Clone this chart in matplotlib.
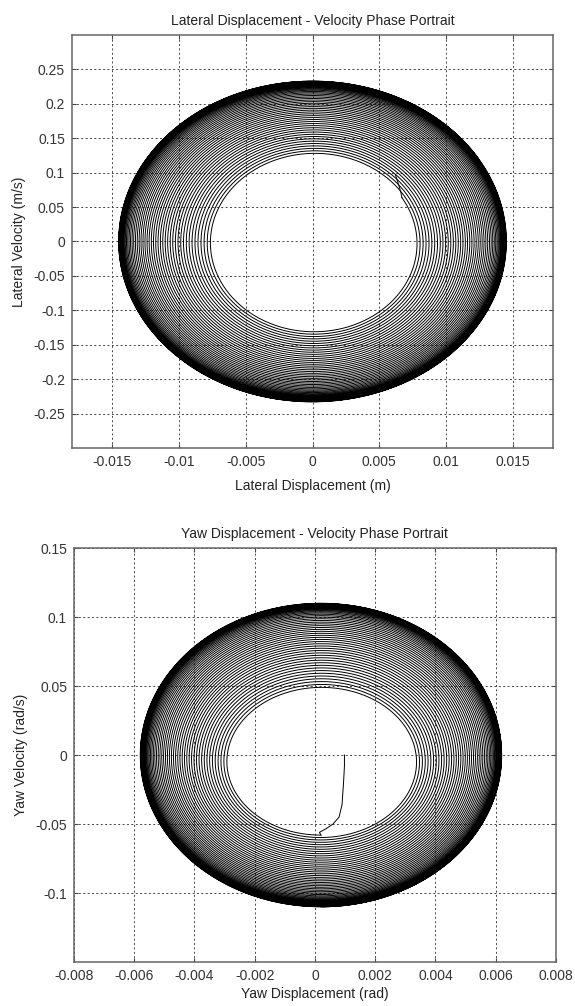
import numpy as np
import matplotlib
matplotlib.use("Agg")
import matplotlib.pyplot as plt
from matplotlib import font_manager

# ---------------- data ----------------
# ring positions between the inner hole (0) and the outer limit cycle (1)
ring_fraction = [0.0, 0.034, 0.068, 0.101, 0.134, 0.166, 0.198, 0.229, 0.260,
                 0.290, 0.320, 0.349, 0.378, 0.406, 0.434, 0.461, 0.488, 0.514,
                 0.540, 0.565, 0.590, 0.614, 0.638, 0.661, 0.684, 0.706, 0.728,
                 0.749, 0.770, 0.790, 0.810, 0.829, 0.847, 0.864, 0.880, 0.895,
                 0.909, 0.922, 0.934, 0.945, 0.955, 0.964, 0.972, 0.979, 0.985,
                 0.990, 0.994, 0.997, 1.0]

# lateral portrait: inner/outer extents of the spiral
lat_x_inner = [-0.0075, 0.0078]   # left, right
lat_v_inner = [-0.130, 0.125]     # bottom, top
lat_x_outer = [-0.0145, 0.0145]
lat_v_outer = [-0.233, 0.233]
lat_start_x = [0.0062, 0.0064, 0.0066]
lat_start_v = [0.097, 0.085, 0.072]

# yaw portrait: inner/outer extents of the spiral
yaw_x_inner = [-0.0029, 0.0033]
yaw_v_inner = [-0.058, 0.048]
yaw_x_outer = [-0.0058, 0.0062]
yaw_v_outer = [-0.110, 0.110]
yaw_start_x = [0.00098, 0.00098, 0.00095, 0.00090, 0.00080, 0.00060, 0.00036, 0.00015]
yaw_start_v = [0.0, -0.008, -0.020, -0.036, -0.045, -0.050, -0.0535, -0.0560]

lat_xticks = [-0.015, -0.01, -0.005, 0, 0.005, 0.01, 0.015]
lat_xticklabels = ["-0.015", "-0.01", "-0.005", "0", "0.005", "0.01", "0.015"]
lat_yticks = [-0.25, -0.2, -0.15, -0.1, -0.05, 0, 0.05, 0.1, 0.15, 0.2, 0.25]
lat_yticklabels = ["-0.25", "-0.2", "-0.15", "-0.1", "-0.05", "0", "0.05", "0.1", "0.15", "0.2", "0.25"]
yaw_xticks = [-0.008, -0.006, -0.004, -0.002, 0, 0.002, 0.004, 0.006, 0.008]
yaw_xticklabels = ["-0.008", "-0.006", "-0.004", "-0.002", "0", "0.002", "0.004", "0.006", "0.008"]
yaw_yticks = [-0.1, -0.05, 0, 0.05, 0.1, 0.15]
yaw_yticklabels = ["-0.1", "-0.05", "0", "0.05", "0.1", "0.15"]

# ---------------- styling ----------------
names = {f.name for f in font_manager.fontManager.ttflist}
fam = ["Liberation Sans Narrow", "Liberation Sans", "DejaVu Sans"]
fam = [f for f in fam if f in names] or ["DejaVu Sans"]
plt.rcParams["font.family"] = fam
FS = 10


def spiral(x_in, v_in, x_out, v_out, theta0):
    """Clockwise phase-plane spiral through the listed rings."""
    fr = np.asarray(ring_fraction)
    xs, vs = [], []
    n = 240
    for k in range(len(fr) - 1):
        th = theta0 - np.linspace(0, 2 * np.pi, n, endpoint=False)
        f = fr[k] + (fr[k + 1] - fr[k]) * np.linspace(0, 1, n, endpoint=False)
        c, s = np.cos(th), np.sin(th)
        xl = x_in[0] + f * (x_out[0] - x_in[0])
        xr = x_in[1] + f * (x_out[1] - x_in[1])
        vb = v_in[0] + f * (v_out[0] - v_in[0])
        vt = v_in[1] + f * (v_out[1] - v_in[1])
        xc, xa = (xl + xr) / 2, (xr - xl) / 2
        vc, va = (vb + vt) / 2, (vt - vb) / 2
        xs.append(xc + xa * c)
        vs.append(vc + va * s)
    th = theta0 - np.linspace(0, 2 * np.pi, n)
    xs.append((x_out[0] + x_out[1]) / 2 + (x_out[1] - x_out[0]) / 2 * np.cos(th))
    vs.append((v_out[0] + v_out[1]) / 2 + (v_out[1] - v_out[0]) / 2 * np.sin(th))
    return np.concatenate(xs), np.concatenate(vs)


def style(ax, xlim, ylim, xt, xtl, yt, ytl):
    ax.set_xlim(*xlim)
    ax.set_ylim(*ylim)
    ax.set_xticks(xt)
    ax.set_xticklabels(xtl, fontsize=FS, color="#333333")
    ax.set_yticks(yt)
    ax.set_yticklabels(ytl, fontsize=FS, color="#333333")
    ax.tick_params(direction="in", length=3, width=0.8, top=True, right=True,
                   color="#444444", pad=5)
    ax.grid(True, color="#444444", linestyle=(0, (2.0, 2.5)), linewidth=0.7)
    ax.set_axisbelow(True)
    for sp in ax.spines.values():
        sp.set_color("#666666")
        sp.set_linewidth(1.1)


fig = plt.figure(figsize=(5.75, 10.06), dpi=100)

# ---- top: lateral ----
ax1 = fig.add_axes([0.125, 0.5547, 0.837, 0.4105])
x, v = spiral(lat_x_inner, lat_v_inner, lat_x_outer, lat_v_outer, np.arcsin(0.52))
ax1.plot(lat_start_x + [x[0]], lat_start_v + [v[0]], color="black", lw=0.7)
ax1.plot(x, v, color="black", lw=0.7)
style(ax1, (-0.018, 0.018), (-0.3, 0.3), lat_xticks, lat_xticklabels,
      lat_yticks, lat_yticklabels)
ax1.set_title("Lateral Displacement - Velocity Phase Portrait", fontsize=FS,
              color="#222222", pad=7)
ax1.set_xlabel("Lateral Displacement (m)", fontsize=FS, color="#222222", labelpad=7)
ax1.set_ylabel("Lateral Velocity (m/s)", fontsize=FS, color="#222222", labelpad=5)

# ---- bottom: yaw ----
ax2 = fig.add_axes([0.1287, 0.0437, 0.838, 0.4115])
x, v = spiral(yaw_x_inner, yaw_v_inner, yaw_x_outer, yaw_v_outer, -np.pi / 2)
ax2.plot(yaw_start_x + [x[0]], yaw_start_v + [v[0]], color="black", lw=0.7)
ax2.plot(x, v, color="black", lw=0.7)
style(ax2, (-0.008, 0.008), (-0.15, 0.15), yaw_xticks, yaw_xticklabels,
      yaw_yticks, yaw_yticklabels)
ax2.set_title("Yaw Displacement - Velocity Phase Portrait", fontsize=FS,
              color="#222222", pad=7)
ax2.set_xlabel("Yaw Displacement (rad)", fontsize=FS, color="#222222", labelpad=3)
ax2.set_ylabel("Yaw Velocity (rad/s)", fontsize=FS, color="#222222", labelpad=5)

fig.savefig("out.png", dpi=100, facecolor="white")
